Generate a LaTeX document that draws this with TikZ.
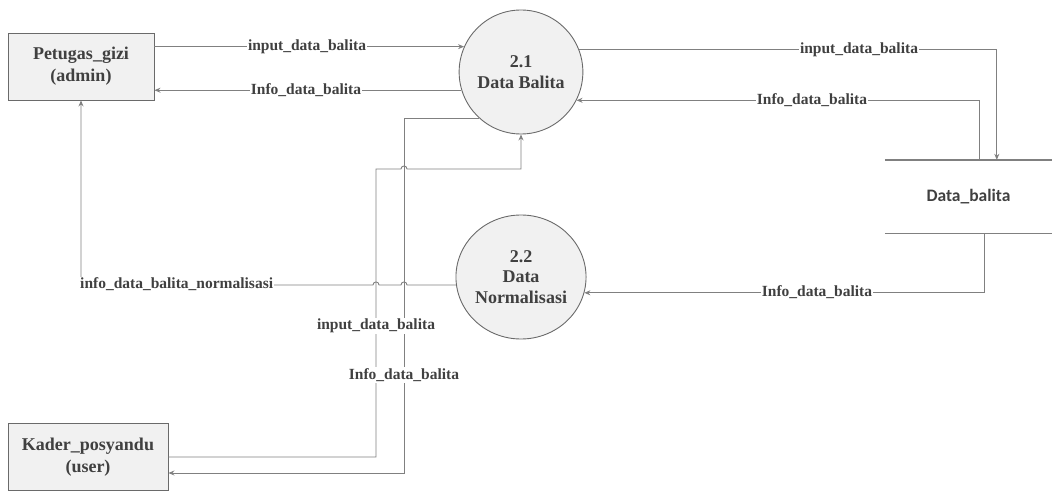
\documentclass[tikz,border=0pt]{standalone}
\usepackage{fontspec}
\setmainfont{Liberation Serif}[BoldFont={Liberation Serif Bold}]
\newfontfamily\dfdfont{Liberation Serif}[BoldFont={Liberation Serif Bold}]
\newfontfamily\storefont{Carlito}
\usetikzlibrary{shapes.geometric,arrows.meta,calc}
\definecolor{linegray}{HTML}{808080}
\definecolor{edgegray}{HTML}{6A6A6A}
\definecolor{txtgray}{HTML}{404040}
\definecolor{fillgray}{HTML}{F1F1F1}
\begin{document}
\begin{tikzpicture}[x=1pt,y=-1pt,
  entity/.style={draw=edgegray, fill=fillgray, line width=0.9pt, minimum height=67pt,
    inner sep=0pt, font=\dfdfont\fontsize{18}{22}\selectfont\bfseries, text=txtgray, align=center},
  process/.style={ellipse, draw=edgegray, fill=fillgray, line width=0.9pt,
    minimum width=122pt, minimum height=124pt, inner sep=0pt,
    font=\dfdfont\fontsize{18}{20.5}\selectfont\bfseries, text=txtgray, align=center},
  wire/.style={draw=linegray, line width=0.9pt},
  flow/.style={wire, -{Stealth[length=6pt,width=5pt]}},
  storeline/.style={draw=linegray, line width=1.4pt},
  lbl/.style={fill=white, inner sep=1pt, font=\dfdfont\fontsize{15.5}{17}\selectfont\bfseries, text=txtgray},
]
\useasboundingbox (0,0) rectangle (1052,492);

% external entities
\node[entity, minimum width=146pt] (pg) at (81,66.5) {Petugas\_gizi\\(admin)};
\node[entity, minimum width=160pt] (kp) at (88,457) {Kader\_posyandu\\(user)};

% processes
\node[process] (p21) at (521,72) {2.1\\Data Balita};
\node[process] (p22) at (521,277) {2.2\\Data\\Normalisasi};

% data store
\node[minimum width=167pt, minimum height=73pt, inner sep=0pt,
      font=\storefont\fontsize{17.5}{20}\selectfont\bfseries, text=txtgray] (store) at (968.5,196.5) {Data\_balita};
\draw[storeline] (store.north west) -- (store.north east);
\draw[storeline] (store.south west) -- (store.south east);

% bend points
\coordinate (sa) at ($(store.north west)+(112,0)$);
\coordinate (sb) at ($(store.north west)+(95,0)$);
\coordinate (sc) at ($(store.south west)+(100,0)$);
\coordinate (c1) at (376,169);
\coordinate (c2) at (404,473);

% flows between Petugas_gizi and 2.1
\draw[flow] (pg.east |- p21.156) -- (p21.156);
\draw[flow] (p21.197) -- (p21.197 -| pg.east);

% flows between 2.1 and the store
\draw[flow] (p21.21) -| (sa);
\draw[flow] (sb) |- (p21.333);

% store to 2.2
\draw[flow] (sc) |- (p22.346);

% 2.2 back to Petugas_gizi, hopping over the two verticals
\draw[flow] (p22.187) -- ($(p22.187 -| c2)+(3,0)$)
  .. controls +(0,-4) and +(0,-4) .. ++(-6,0)
  -- ($(p22.187 -| c1)+(3,0)$)
  .. controls +(0,-4) and +(0,-4) .. ++(-6,0)
  -| (pg.south);

% Kader_posyandu to 2.1
\draw[flow] (kp.east) -| (c1) -- ($(c1 -| c2)+(-3,0)$)
  .. controls +(0,-4) and +(0,-4) .. ++(6,0)
  -| (p21.south);

% 2.1 to Kader_posyandu
\draw[flow] (p21.228) -| (c2) -- (c2 -| kp.east);

% flow labels
\node[lbl] (l1) at (307,46.8) {input\_data\_balita};
\node[lbl] (l2) at (306,90.1) {Info\_data\_balita};
\node[lbl] (l3) at (859,49.8) {input\_data\_balita};
\node[lbl] (l4) at (812,100.1) {Info\_data\_balita};
\node[lbl] (l5) at (817,292) {Info\_data\_balita};
\node[lbl, anchor=west] (l6) at (79,284.6) {info\_data\_balita\_normalisasi};
\node[lbl] (l7) at (376,326) {input\_data\_balita};
\node[lbl] (l8) at (404,375) {Info\_data\_balita};
\end{tikzpicture}
\end{document}
